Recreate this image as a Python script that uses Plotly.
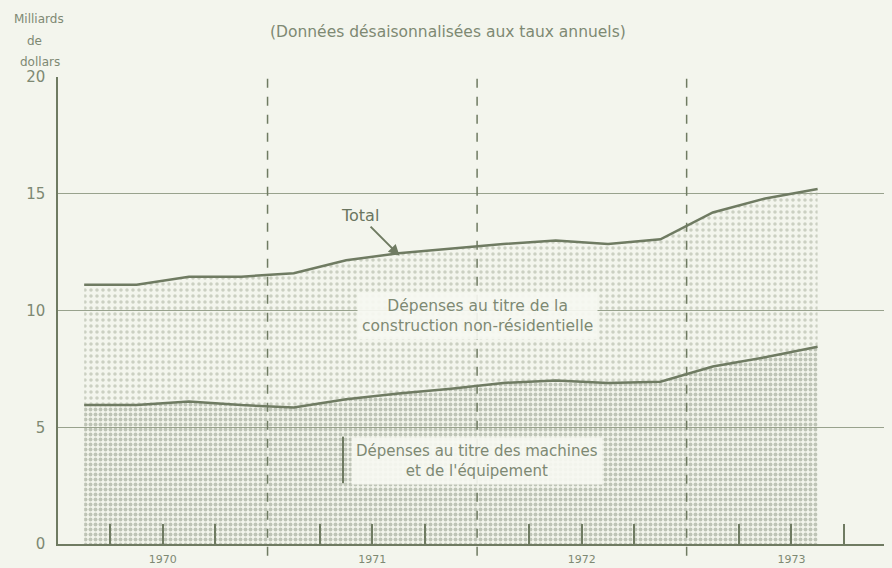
import plotly.graph_objects as go

# Données trimestrielles (milliards de dollars, taux annuels désaisonnalisés)
trimestres = ["1970-T1", "1970-T2", "1970-T3", "1970-T4",
              "1971-T1", "1971-T2", "1971-T3", "1971-T4",
              "1972-T1", "1972-T2", "1972-T3", "1972-T4",
              "1973-T1", "1973-T2", "1973-T3"]
total = [11.1, 11.1, 11.45, 11.45, 11.6, 12.15, 12.45, 12.65,
         12.85, 13.0, 12.85, 13.05, 14.2, 14.8, 15.2]
machines = [5.95, 5.95, 6.1, 5.95, 5.85, 6.2, 6.45, 6.65,
            6.9, 7.0, 6.9, 6.95, 7.6, 8.0, 8.45]
annees = [1970, 1971, 1972, 1973]
graduations_y = [0, 5, 10, 15, 20]

ENCRE = "#6f7b62"
TEXTE = "#7e8973"
FOND = "#f3f5ed"
POLICE = "DejaVu Sans"

# trimestre -> milieu du trimestre sur l'axe des années
x = [int(t[:4]) + (int(t[-1]) - 0.5) / 4 for t in trimestres]

fig = go.Figure()

fig.add_trace(go.Scatter(
    x=x, y=machines, mode="lines",
    line=dict(color=ENCRE, width=2.5),
    fill="tozeroy", fillcolor="rgba(210,214,198,0.4)",
    fillpattern=dict(shape=".", fgcolor="#8a9380", bgcolor="rgba(0,0,0,0)",
                     size=5, solidity=0.5, fillmode="overlay"),
    showlegend=False, hoverinfo="skip",
))
fig.add_trace(go.Scatter(
    x=x, y=total, mode="lines",
    line=dict(color=ENCRE, width=2.5),
    fill="tonexty", fillcolor="rgba(0,0,0,0)",
    fillpattern=dict(shape=".", fgcolor="#a3ac98", bgcolor="rgba(0,0,0,0)",
                     size=6, solidity=0.28, fillmode="overlay"),
    showlegend=False, hoverinfo="skip",
))

# Lignes pointillées entre les années
for a in annees[1:]:
    fig.add_shape(type="line", xref="x", yref="paper", x0=a, x1=a, y0=-0.025, y1=1,
                  line=dict(color=ENCRE, width=1.5, dash="dash"))

# Graduations trimestrielles et étiquettes des années
tickvals, ticktext = [], []
for a in annees:
    for q in (0.25, 0.5, 0.75):
        tickvals.append(a + q)
        ticktext.append(str(a) if q == 0.5 else "")

fig.update_xaxes(
    range=[1970, 1973.98], showgrid=False, zeroline=False,
    showline=True, linecolor=ENCRE, linewidth=2,
    tickvals=tickvals, ticktext=ticktext,
    ticks="inside", ticklen=20, tickwidth=2, tickcolor=ENCRE,
    ticklabelstandoff=4,
    tickfont=dict(family=POLICE, size=11, color=TEXTE),
)
fig.update_yaxes(
    range=[0, 20], tickvals=graduations_y,
    showgrid=True, gridcolor="#98a28d", gridwidth=1.3,
    zeroline=False, showline=True, linecolor=ENCRE, linewidth=1.5,
    ticks="", ticklabelstandoff=8,
    tickfont=dict(family=POLICE, size=15, color=TEXTE),
)

annots = [
    dict(text="Milliards", x=-0.023, y=1.124),
    dict(text="de", x=-0.028, y=1.077),
    dict(text="dollars", x=-0.022, y=1.032),
]
for a in annots:
    fig.add_annotation(xref="paper", yref="paper", showarrow=False,
                       xanchor="center", yanchor="middle",
                       font=dict(family=POLICE, size=12, color=TEXTE), **a)

fig.add_annotation(xref="paper", yref="paper", x=0.468, y=1.096, showarrow=False,
                   xanchor="center", yanchor="middle",
                   text="(Données désaisonnalisées aux taux annuels)",
                   font=dict(family=POLICE, size=15.5, color=TEXTE))

fig.add_annotation(x=1971.63, y=12.35, text="Total", showarrow=True,
                   ax=-40, ay=-40, arrowhead=2, arrowsize=1.1, arrowwidth=2,
                   arrowcolor=ENCRE,
                   font=dict(family=POLICE, size=16, color="#6a7560"))

fig.add_annotation(x=1972.0, y=9.75, showarrow=False,
                   text="Dépenses au titre de la<br>construction non-résidentielle",
                   bgcolor="rgba(246,247,241,0.92)", borderpad=4,
                   font=dict(family=POLICE, size=15.5, color=TEXTE))

fig.add_annotation(x=1972.0, y=3.55, showarrow=False,
                   text="Dépenses au titre des machines<br>et de l'équipement",
                   bgcolor="rgba(246,247,241,0.92)", borderpad=4,
                   font=dict(family=POLICE, size=15, color=TEXTE))
fig.add_shape(type="line", xref="x", yref="y", x0=1971.36, x1=1971.36, y0=2.6, y1=4.6,
              line=dict(color=ENCRE, width=2))

# la page ajoute 8 px de marge au corps : on les retire de la taille et des marges
fig.update_layout(
    width=884, height=560,
    margin=dict(l=50, r=0, t=69, b=24),
    paper_bgcolor=FOND, plot_bgcolor=FOND,
    font=dict(family=POLICE, color=TEXTE),
)

fig.write_html("out.html", post_script=f"document.body.style.background='{FOND}';")
